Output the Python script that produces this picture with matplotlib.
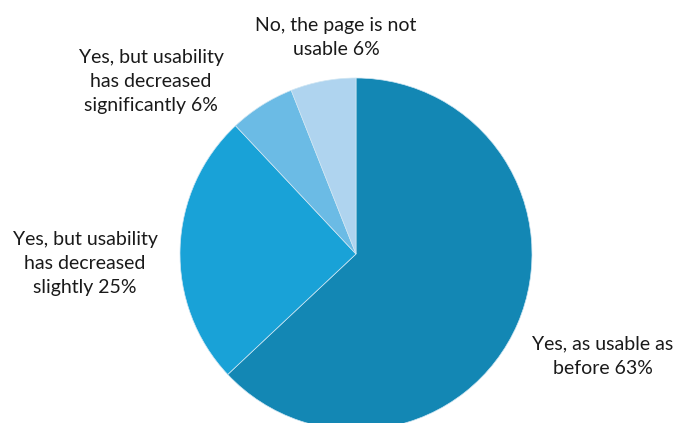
import matplotlib
matplotlib.use("Agg")
import matplotlib.pyplot as plt

categories = [
    "Yes, as usable as\nbefore",
    "Yes, but usability\nhas decreased\nslightly",
    "Yes, but usability\nhas decreased\nsignificantly",
    "No, the page is not\nusable",
]
shares = [63, 25, 6, 6]
colors = ["#1387b4", "#19a2d7", "#6bbbe5", "#afd4ef"]

W, H = 675, 423
fig = plt.figure(figsize=(W / 100, H / 100), dpi=100)
ax = fig.add_axes([0, 0, 1, 1])

ax.pie(shares, colors=colors, startangle=90, counterclock=False,
       center=(356, H - 254), radius=176, frame=True,
       wedgeprops=dict(edgecolor="#cfe6f3", linewidth=0.5))
ax.set_xlim(0, W)
ax.set_ylim(0, H)
ax.set_aspect("equal")
ax.axis("off")

label_pos = [(603, H - 356), (85, H - 263), (151, H - 81), (336, H - 37)]
for cat, val, (x, y) in zip(categories, shares, label_pos):
    ax.text(x, y, f"{cat} {val}%", ha="center", va="center",
            fontsize=14, family="Lato", color="#1a1a1a",
            linespacing=1.5)

fig.savefig("out.png", dpi=100)
